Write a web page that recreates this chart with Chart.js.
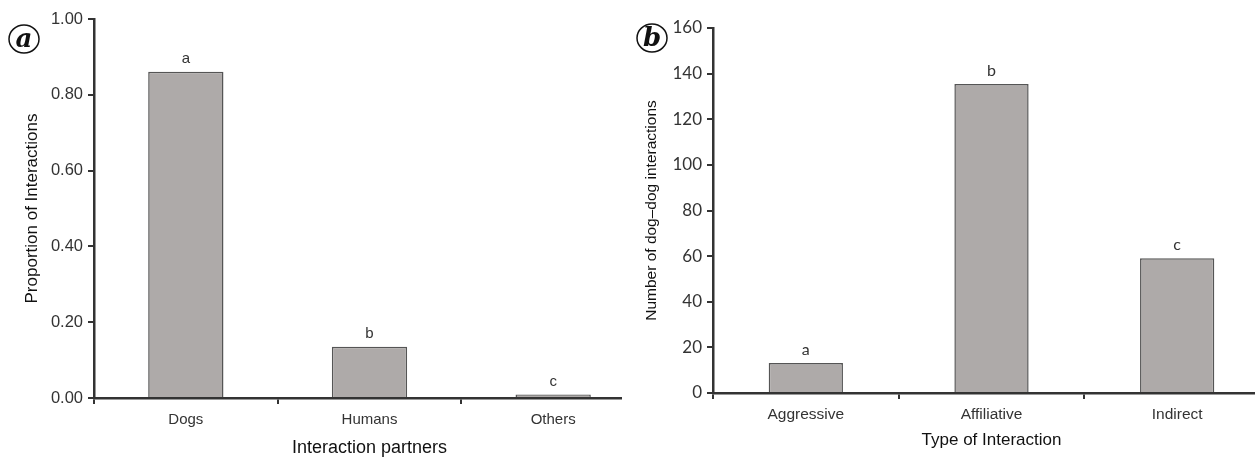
<!DOCTYPE html>
<html>
<head>
<meta charset="utf-8">
<script src="https://cdn.jsdelivr.net/npm/chart.js@4.4.1/dist/chart.umd.min.js"></script>
<style>
  html, body { margin: 0; padding: 0; background: #fff; }
  body { width: 1255px; height: 459px; position: relative; overflow: hidden; }
  .box { position: absolute; top: 0; height: 459px; overflow: hidden; }
  #boxA { left: 0; width: 622px; }
  #boxB { left: 620px; width: 635px; }
  #boxA div { width: 645px; height: 459px; }
  #boxB div { width: 650px; height: 459px; }
</style>
</head>
<body>
<div class="box" id="boxA"><div><canvas id="chartA"></canvas></div></div>
<div class="box" id="boxB"><div><canvas id="chartB"></canvas></div></div>
<script>
// panel a
const partners = ['Dogs', 'Humans', 'Others'];
const proportions = [0.861, 0.135, 0.009];
const lettersA = ['a', 'b', 'c'];
const ticksA = [0, 0.2, 0.4, 0.6, 0.8, 1.0];

// panel b
const types = ['Aggressive', 'Affiliative', 'Indirect'];
const counts = [13.2, 135.4, 59.1];
const lettersB = ['a', 'b', 'c'];
const ticksB = [0, 20, 40, 60, 80, 100, 120, 140, 160];

const barFill = '#aeaaa9';
const barLine = '#555';
const axisCol = '#333';

// letters over the bars + the circled panel tag
function overlay(letters, tag, tx, ty, font) {
  return {
    id: 'overlay',
    afterDatasetsDraw(chart) {
      const ctx = chart.ctx;
      const meta = chart.getDatasetMeta(0);
      ctx.save();
      ctx.fillStyle = '#333';
      ctx.font = font;
      ctx.textAlign = 'center';
      ctx.textBaseline = 'bottom';
      meta.data.forEach((bar, i) => {
        ctx.fillText(letters[i], bar.x, bar.y - 5);
      });
      ctx.beginPath();
      ctx.ellipse(tx, ty, 15, 14, 0, 0, Math.PI * 2);
      ctx.lineWidth = 1.5;
      ctx.strokeStyle = '#111';
      ctx.fillStyle = '#fff';
      ctx.fill();
      ctx.stroke();
      ctx.fillStyle = '#111';
      ctx.font = 'italic bold 26px "DejaVu Serif", "Liberation Serif", serif';
      ctx.textBaseline = 'middle';
      ctx.fillText(tag, tx, ty + 1);
      ctx.restore();
    }
  };
}

function makeChart(id, labels, values, letters, tickVals, opts) {
  new Chart(document.getElementById(id), {
    type: 'bar',
    data: {
      labels: labels,
      datasets: [{
        data: values,
        backgroundColor: barFill,
        borderColor: barLine,
        borderWidth: 1.5,
        barPercentage: opts.barPct,
        categoryPercentage: 1
      }]
    },
    options: {
      responsive: true,
      maintainAspectRatio: false,
      animation: false,
      layout: { padding: { top: opts.top, left: 0, right: 0, bottom: 0 } },
      plugins: { legend: { display: false }, tooltip: { enabled: false } },
      scales: {
        x: {
          offset: true,
          grid: { display: true, drawOnChartArea: false, color: axisCol, lineWidth: 2, tickLength: 6, offset: true },
          border: { color: axisCol, width: 2.5 },
          ticks: { color: '#333', padding: opts.xPad, font: { family: 'Liberation Sans', size: opts.xTickSize } },
          title: { display: true, text: opts.xTitle, color: '#111', padding: { top: 0, bottom: opts.xTitlePad },
                   font: { family: 'Liberation Sans', size: opts.xTitleSize } },
          afterFit(s) { s.height = opts.xHeight; }
        },
        y: {
          min: tickVals[0],
          max: tickVals[tickVals.length - 1],
          afterBuildTicks(s) { s.ticks = tickVals.map(v => ({ value: v })); },
          grid: { display: true, drawOnChartArea: false, color: axisCol, lineWidth: 2, tickLength: 6 },
          border: { color: axisCol, width: 2.5 },
          ticks: { color: '#333', padding: 5, font: opts.yFont, callback: opts.fmt },
          title: { display: true, text: opts.yTitle, color: '#111', padding: { top: opts.yTitlePad, bottom: 0 },
                   font: { family: 'Liberation Sans', size: opts.yTitleSize } },
          afterFit(s) { s.width = opts.yWidth; }
        }
      }
    },
    plugins: [overlay(letters, opts.tag, opts.tx, opts.ty, opts.letterFont)]
  });
}

makeChart('chartA', partners, proportions, lettersA, ticksA, {
  barPct: 0.41, top: 19, xHeight: 61, yWidth: 94, xPad: 7, xTitlePad: 0, yTitlePad: 22,
  xTickSize: 15, xTitleSize: 18, yTitleSize: 17,
  xTitle: 'Interaction partners', yTitle: 'Proportion of Interactions',
  yFont: { family: 'Liberation Sans', size: 16.5 }, fmt: v => Number(v).toFixed(2),
  tag: 'a', tx: 24, ty: 39, letterFont: '15px "Liberation Sans"'
});

makeChart('chartB', types, counts, lettersB, ticksB, {
  barPct: 0.40, top: 28, xHeight: 66, yWidth: 93, xPad: 6, xTitlePad: 8, yTitlePad: 22.5,
  xTickSize: 15.5, xTitleSize: 17, yTitleSize: 15.5,
  xTitle: 'Type of Interaction', yTitle: 'Number of dog\u2013dog interactions',
  yFont: { family: 'Lato', size: 17 }, fmt: v => v,
  tag: 'b', tx: 32, ty: 38, letterFont: '16px Lato'
});
</script>
</body>
</html>
